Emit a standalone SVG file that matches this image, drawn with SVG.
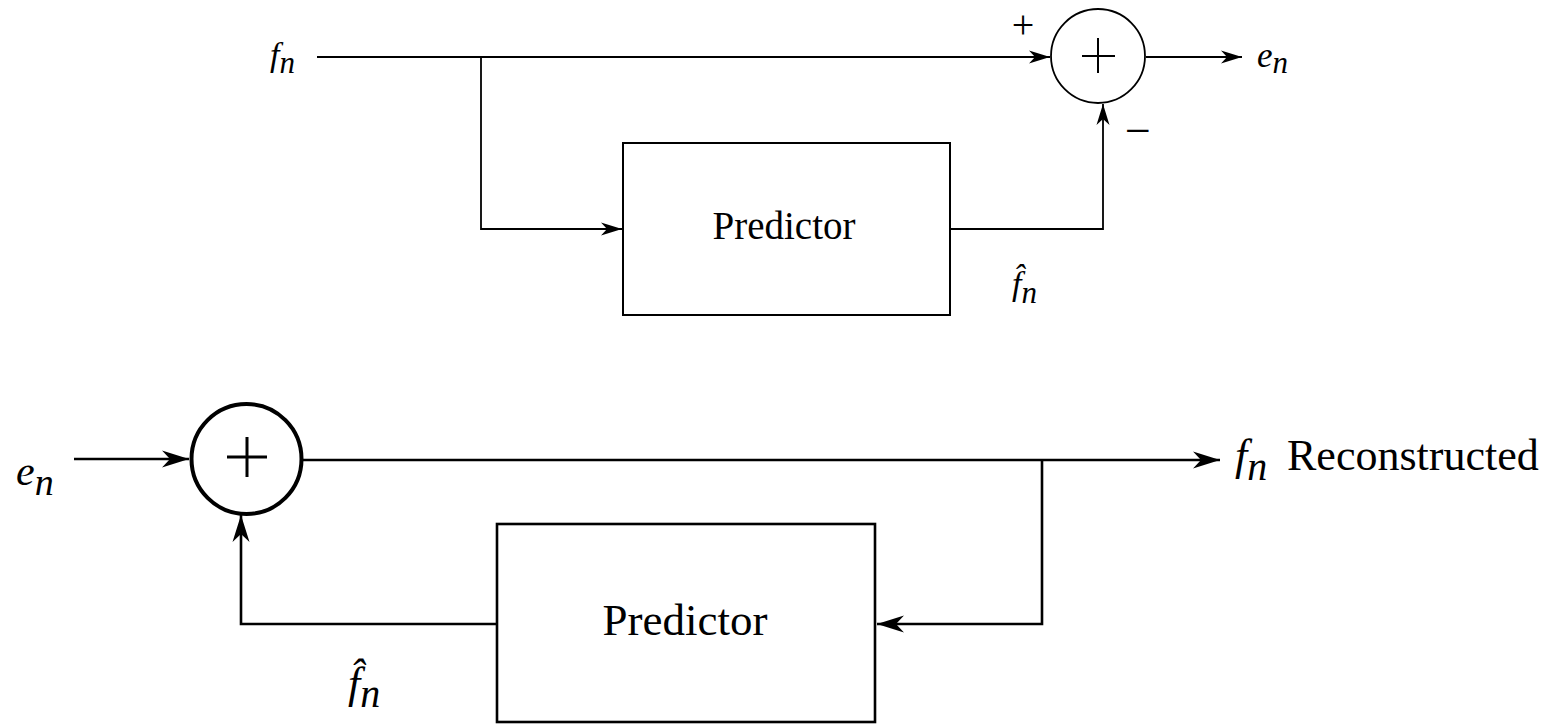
<svg xmlns="http://www.w3.org/2000/svg" width="1554" height="724" viewBox="0 0 1554 724">
<style>
.ln{fill:none;stroke:#000;stroke-linecap:butt;stroke-linejoin:miter}
.t{stroke-width:1.8}
.b{stroke-width:2.6}
.box{fill:#fff;stroke:#000}
.tx{font-family:"Liberation Serif","Times New Roman",serif;fill:#000}
.it{font-style:italic}
</style>
<defs>
<marker id="ahs" markerUnits="userSpaceOnUse" markerWidth="24" markerHeight="16" viewBox="-22 -8 24 16" refX="0" refY="0" orient="auto">
<path d="M0,0 L-21,-6.5 L-15,0 L-21,6.5 Z" fill="#000"/>
</marker>
<marker id="ahb" markerUnits="userSpaceOnUse" markerWidth="30" markerHeight="20" viewBox="-28 -10 30 20" refX="0" refY="0" orient="auto">
<path d="M0,0 L-27,-8.5 L-19,0 L-27,8.5 Z" fill="#000"/>
</marker>
</defs>
<g id="connectors">
<path class="ln t" d="M317,57 L1050,57" marker-end="url(#ahs)"/>
<path class="ln t" d="M481,57 L481,229 L622,229" marker-end="url(#ahs)"/>
<path class="ln t" d="M950,229 L1103,229 L1103,104" marker-end="url(#ahs)"/>
<path class="ln t" d="M1146,57 L1242,57" marker-end="url(#ahs)"/>
<path class="ln b" d="M74,459 L189,459" marker-end="url(#ahb)"/>
<path class="ln b" d="M303,460 L1220,460" marker-end="url(#ahb)"/>
<path class="ln b" d="M1042,460 L1042,624 L877,624" marker-end="url(#ahb)"/>
<path class="ln b" d="M497,624 L241,624 L241,515" marker-end="url(#ahb)"/>
</g>
<g id="sum1">
<circle cx="1098" cy="56" r="47" fill="#fff" stroke="#000" stroke-width="1.8"/>
<path class="ln" stroke-width="2" d="M1082,56 L1115,56 M1098,38 L1098,73"/>
</g>
<g id="predictor1">
<rect class="box" x="623" y="143" width="327" height="172" stroke-width="2"/>
<text class="tx" x="784" y="239" font-size="39" text-anchor="middle">Predictor</text>
</g>
<g id="sum2">
<circle cx="246.5" cy="459" r="55" fill="#fff" stroke="#000" stroke-width="4"/>
<path class="ln" stroke-width="3" d="M227,457 L267,457 M247,437 L247,477"/>
</g>
<g id="predictor2">
<rect class="box" x="497" y="524" width="378" height="198" stroke-width="2.6"/>
<text class="tx" x="685" y="635" font-size="45" text-anchor="middle">Predictor</text>
</g>
<g id="labels">
<text class="tx it" x="270" y="66" font-size="34">f<tspan dy="7" font-size="31">n</tspan></text>
<text class="tx" x="1023" y="38" font-size="40" text-anchor="middle">+</text>
<text class="tx" x="1138" y="146" font-size="46" text-anchor="middle">−</text>
<text class="tx it" x="1257" y="67" font-size="35">e<tspan dy="6" font-size="31">n</tspan></text>
<text class="tx it" x="1012" y="295" font-size="34">f&#x302;<tspan dy="8" font-size="31">n</tspan></text>
<text class="tx it" x="16" y="485" font-size="42">e<tspan dy="10" font-size="38">n</tspan></text>
<text class="tx it" x="348" y="698" font-size="44">f&#x302;<tspan dy="9" font-size="40">n</tspan></text>
<text class="tx it" x="1235" y="470" font-size="44">f<tspan dy="10" font-size="40">n</tspan></text>
<text class="tx" x="1287" y="470" font-size="44">Reconstructed</text>
</g>
</svg>
